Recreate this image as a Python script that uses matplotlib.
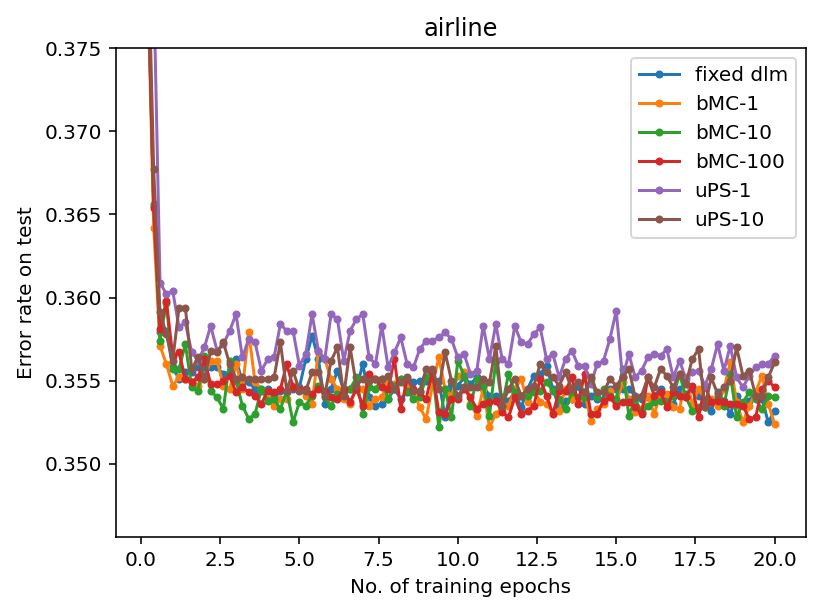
import matplotlib
matplotlib.use("Agg")
import matplotlib.pyplot as plt
import numpy as np

# epochs: one point every 0.2 epoch
epochs = np.round(np.arange(1, 101) * 0.2, 1)

fixed_dlm = [
    0.3810, 0.3656, 0.3579, 0.3580, 0.3558, 0.3551, 0.3555, 0.3555, 0.3558, 0.3558,
    0.3558, 0.3558, 0.3554, 0.3555, 0.3563, 0.3549, 0.3549, 0.3545, 0.3544, 0.3545,
    0.3539, 0.3544, 0.3543, 0.3545, 0.3546, 0.3563, 0.3577, 0.3563, 0.3536, 0.3545,
    0.3556, 0.3544, 0.3545, 0.3545, 0.3560, 0.3540, 0.3535, 0.3536, 0.3539, 0.3545,
    0.3539, 0.3543, 0.3549, 0.3550, 0.3550, 0.3550, 0.3550, 0.3528, 0.3547, 0.3547,
    0.3552, 0.3548, 0.3552, 0.3547, 0.3541, 0.3541, 0.3540, 0.3538, 0.3543, 0.3534,
    0.3545, 0.3553, 0.3554, 0.3559, 0.3545, 0.3534, 0.3538, 0.3539, 0.3547, 0.3536,
    0.3541, 0.3539, 0.3539, 0.3545, 0.3545, 0.3545, 0.3545, 0.3541, 0.3539, 0.3540,
    0.3541, 0.3545, 0.3539, 0.3536, 0.3545, 0.3542, 0.3545, 0.3541, 0.3538, 0.3532,
    0.3543, 0.3538, 0.3530, 0.3541, 0.3536, 0.3538, 0.3543, 0.3539, 0.3525, 0.3532,
]
bmc_1 = [
    0.3800, 0.3642, 0.3571, 0.3560, 0.3547, 0.3552, 0.3551, 0.3549, 0.3547, 0.3551,
    0.3562, 0.3562, 0.3547, 0.3545, 0.3560, 0.3545, 0.3579, 0.3549, 0.3545, 0.3539,
    0.3535, 0.3539, 0.3539, 0.3547, 0.3545, 0.3541, 0.3536, 0.3568, 0.3563, 0.3551,
    0.3545, 0.3539, 0.3536, 0.3547, 0.3545, 0.3535, 0.3539, 0.3540, 0.3549, 0.3548,
    0.3551, 0.3546, 0.3544, 0.3534, 0.3527, 0.3547, 0.3564, 0.3545, 0.3541, 0.3553,
    0.3555, 0.3536, 0.3529, 0.3545, 0.3522, 0.3530, 0.3534, 0.3535, 0.3545, 0.3551,
    0.3537, 0.3545, 0.3537, 0.3536, 0.3531, 0.3532, 0.3545, 0.3539, 0.3538, 0.3543,
    0.3526, 0.3533, 0.3536, 0.3544, 0.3536, 0.3549, 0.3539, 0.3531, 0.3533, 0.3541,
    0.3530, 0.3542, 0.3542, 0.3534, 0.3533, 0.3552, 0.3536, 0.3545, 0.3539, 0.3539,
    0.3535, 0.3545, 0.3561, 0.3537, 0.3525, 0.3535, 0.3543, 0.3553, 0.3536, 0.3524,
]
bmc_10 = [
    0.3805, 0.3655, 0.3574, 0.3597, 0.3557, 0.3557, 0.3572, 0.3546, 0.3544, 0.3565,
    0.3544, 0.3540, 0.3533, 0.3562, 0.3550, 0.3535, 0.3527, 0.3530, 0.3545, 0.3538,
    0.3539, 0.3533, 0.3544, 0.3525, 0.3537, 0.3535, 0.3541, 0.3547, 0.3540, 0.3535,
    0.3542, 0.3541, 0.3545, 0.3552, 0.3530, 0.3546, 0.3545, 0.3551, 0.3539, 0.3547,
    0.3551, 0.3544, 0.3539, 0.3540, 0.3552, 0.3556, 0.3522, 0.3545, 0.3528, 0.3562,
    0.3553, 0.3535, 0.3551, 0.3547, 0.3529, 0.3562, 0.3535, 0.3554, 0.3543, 0.3541,
    0.3541, 0.3543, 0.3544, 0.3549, 0.3544, 0.3539, 0.3533, 0.3543, 0.3540, 0.3540,
    0.3551, 0.3540, 0.3545, 0.3541, 0.3539, 0.3557, 0.3529, 0.3539, 0.3531, 0.3535,
    0.3537, 0.3538, 0.3537, 0.3541, 0.3554, 0.3540, 0.3532, 0.3534, 0.3534, 0.3537,
    0.3539, 0.3535, 0.3554, 0.3528, 0.3537, 0.3543, 0.3539, 0.3533, 0.3541, 0.3540,
]
bmc_100 = [
    0.3808, 0.3654, 0.3581, 0.3598, 0.3565, 0.3567, 0.3551, 0.3549, 0.3552, 0.3563,
    0.3548, 0.3548, 0.3550, 0.3553, 0.3543, 0.3546, 0.3543, 0.3541, 0.3536, 0.3544,
    0.3543, 0.3545, 0.3560, 0.3546, 0.3545, 0.3545, 0.3542, 0.3545, 0.3544, 0.3540,
    0.3539, 0.3545, 0.3537, 0.3545, 0.3535, 0.3554, 0.3551, 0.3546, 0.3545, 0.3563,
    0.3533, 0.3551, 0.3545, 0.3543, 0.3539, 0.3556, 0.3531, 0.3530, 0.3539, 0.3539,
    0.3545, 0.3540, 0.3533, 0.3536, 0.3537, 0.3538, 0.3531, 0.3528, 0.3540, 0.3530,
    0.3532, 0.3535, 0.3551, 0.3541, 0.3530, 0.3544, 0.3544, 0.3552, 0.3536, 0.3554,
    0.3530, 0.3530, 0.3538, 0.3540, 0.3535, 0.3537, 0.3537, 0.3534, 0.3530, 0.3552,
    0.3541, 0.3543, 0.3534, 0.3543, 0.3541, 0.3540, 0.3547, 0.3528, 0.3547, 0.3537,
    0.3538, 0.3537, 0.3536, 0.3536, 0.3535, 0.3527, 0.3528, 0.3545, 0.3550, 0.3546,
]
ups_1 = [
    0.3950, 0.3790, 0.3609, 0.3602, 0.3604, 0.3582, 0.3585, 0.3567, 0.3562, 0.3570,
    0.3583, 0.3568, 0.3572, 0.3580, 0.3590, 0.3564, 0.3575, 0.3573, 0.3556, 0.3563,
    0.3564, 0.3584, 0.3580, 0.3580, 0.3559, 0.3566, 0.3590, 0.3568, 0.3563, 0.3590,
    0.3587, 0.3562, 0.3580, 0.3587, 0.3590, 0.3564, 0.3560, 0.3583, 0.3558, 0.3567,
    0.3576, 0.3560, 0.3558, 0.3569, 0.3574, 0.3574, 0.3576, 0.3579, 0.3575, 0.3564,
    0.3566, 0.3554, 0.3556, 0.3583, 0.3563, 0.3584, 0.3563, 0.3560, 0.3583, 0.3573,
    0.3572, 0.3578, 0.3582, 0.3563, 0.3566, 0.3552, 0.3563, 0.3568, 0.3559, 0.3559,
    0.3548, 0.3560, 0.3562, 0.3575, 0.3592, 0.3552, 0.3566, 0.3552, 0.3556, 0.3564,
    0.3566, 0.3565, 0.3569, 0.3552, 0.3562, 0.3551, 0.3555, 0.3556, 0.3547, 0.3557,
    0.3572, 0.3556, 0.3571, 0.3552, 0.3546, 0.3553, 0.3558, 0.3560, 0.3560, 0.3565,
]
ups_10 = [
    0.3830, 0.3677, 0.3591, 0.3578, 0.3562, 0.3594, 0.3594, 0.3557, 0.3564, 0.3551,
    0.3568, 0.3567, 0.3573, 0.3560, 0.3551, 0.3552, 0.3551, 0.3551, 0.3551, 0.3551,
    0.3552, 0.3573, 0.3544, 0.3556, 0.3544, 0.3544, 0.3555, 0.3555, 0.3541, 0.3562,
    0.3570, 0.3541, 0.3570, 0.3547, 0.3551, 0.3550, 0.3551, 0.3551, 0.3553, 0.3545,
    0.3549, 0.3552, 0.3544, 0.3544, 0.3557, 0.3557, 0.3545, 0.3567, 0.3550, 0.3541,
    0.3546, 0.3546, 0.3546, 0.3551, 0.3549, 0.3571, 0.3535, 0.3545, 0.3551, 0.3541,
    0.3545, 0.3547, 0.3560, 0.3555, 0.3552, 0.3547, 0.3555, 0.3545, 0.3549, 0.3543,
    0.3552, 0.3543, 0.3543, 0.3551, 0.3547, 0.3552, 0.3557, 0.3540, 0.3541, 0.3552,
    0.3546, 0.3557, 0.3553, 0.3546, 0.3554, 0.3548, 0.3563, 0.3569, 0.3534, 0.3552,
    0.3542, 0.3546, 0.3550, 0.3570, 0.3553, 0.3556, 0.3541, 0.3541, 0.3552, 0.3561,
]

series = [fixed_dlm, bmc_1, bmc_10, bmc_100, ups_1, ups_10]
labels = ["fixed dlm", "bMC-1", "bMC-10", "bMC-100", "uPS-1", "uPS-10"]

fig = plt.figure(figsize=(822 / 144, 616 / 144), dpi=144)
ax = fig.add_axes([0.1411, 0.1282, 0.8394, 0.7938])

for vals, lab in zip(series, labels):
    ax.plot(epochs, vals, marker=".", label=lab)

ax.set_ylim(0.3456, 0.375)
ax.set_title("airline")
ax.set_xlabel("No. of training epochs")
ax.set_ylabel("Error rate on test")
ax.legend(loc="upper right")

fig.savefig("out.png", dpi=144)
